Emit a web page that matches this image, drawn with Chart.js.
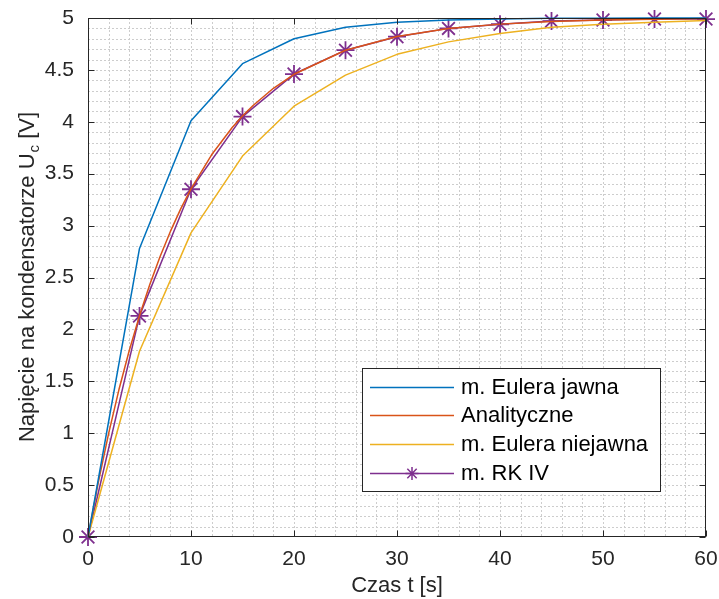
<!DOCTYPE html>
<html>
<head>
<meta charset="utf-8">
<script src="https://cdn.jsdelivr.net/npm/chart.js@4.4.1/dist/chart.umd.min.js"></script>
<style>
  html, body { margin: 0; padding: 0; background: #fff; }
  #wrap { width: 719px; height: 599px; }
</style>
</head>
<body>
<div id="wrap"><canvas id="chart" width="719" height="599"></canvas></div>
<script>
// time steps (h = 5 s)
const stepT = [0, 5, 10, 15, 20, 25, 30, 35, 40, 45, 50, 55, 60];
// explicit Euler
const eulerJawna = [0, 2.78, 4.01, 4.56, 4.80, 4.91, 4.96, 4.98, 4.99, 4.997, 4.998, 4.999, 5.0];
// implicit Euler
const eulerNiejawna = [0, 1.79, 2.93, 3.67, 4.15, 4.45, 4.65, 4.77, 4.85, 4.91, 4.94, 4.96, 4.975];
// RK4
const rk4 = [0, 2.13, 3.35, 4.05, 4.46, 4.69, 4.82, 4.90, 4.94, 4.97, 4.98, 4.99, 4.99];
// analytical curve (finer time grid)
const analT = [0, 1, 2, 3, 4, 5, 6, 7, 8, 9, 10, 12, 14, 15, 16, 18, 20, 25, 30, 35, 40, 45, 50, 55, 60];
const analityczne = [0, 0.526, 0.996, 1.418, 1.794, 2.131, 2.433, 2.703, 2.944, 3.161, 3.354, 3.682, 3.945, 4.056, 4.155, 4.323, 4.458, 4.689, 4.822, 4.898, 4.941, 4.966, 4.981, 4.989, 4.994];

const seriesNames = ['m. Eulera jawna', 'Analityczne', 'm. Eulera niejawna', 'm. RK IV'];
const seriesColors = ['#0072BD', '#D95319', '#EDB120', '#7E2F8E'];

const xTicks = [0, 10, 20, 30, 40, 50, 60];
const yTicks = [0, 0.5, 1, 1.5, 2, 2.5, 3, 3.5, 4, 4.5, 5];

const FONT = '"Liberation Sans", Arial, Helvetica, sans-serif';
const AXIS_COLOR = '#262626';

function pts(xs, ys) {
    return xs.map((x, i) => ({ x: x, y: ys[i] }));
}

// dotted grid (major + minor) behind the data, box, ticks, titles, legend
const gridPlugin = {
    id: 'matlabGrid',
    beforeDatasetsDraw(chart) {
        const ctx = chart.ctx;
        const a = chart.chartArea;
        const xs = chart.scales.x, ys = chart.scales.y;
        ctx.save();
        ctx.lineWidth = 1;
        ctx.setLineDash([2, 2]);
        ctx.strokeStyle = '#cdcdcd';
        for (let v = 2; v < 60; v += 2) {
            const px = Math.round(xs.getPixelForValue(v)) + 0.5;
            ctx.beginPath(); ctx.moveTo(px, a.top); ctx.lineTo(px, a.bottom); ctx.stroke();
        }
        for (let i = 1; i < 50; i++) {
            const py = Math.round(ys.getPixelForValue(i / 10)) + 0.5;
            ctx.beginPath(); ctx.moveTo(a.left, py); ctx.lineTo(a.right, py); ctx.stroke();
        }
        ctx.restore();
    },
    afterDatasetsDraw(chart) {
        const ctx = chart.ctx;
        const a = chart.chartArea;
        const xs = chart.scales.x, ys = chart.scales.y;
        const L = Math.round(a.left) + 0.5, R = Math.round(a.right) - 0.5;
        const T = Math.round(a.top) + 0.5, B = Math.round(a.bottom) - 0.5;
        ctx.save();
        ctx.strokeStyle = AXIS_COLOR;
        ctx.lineWidth = 1;
        ctx.strokeRect(L, T, R - L, B - T);
        const tl = 6;
        ctx.beginPath();
        xTicks.forEach(v => {
            const px = Math.round(xs.getPixelForValue(v)) + 0.5;
            ctx.moveTo(px, B); ctx.lineTo(px, B - tl);
            ctx.moveTo(px, T); ctx.lineTo(px, T + tl);
        });
        yTicks.forEach(v => {
            const py = Math.round(ys.getPixelForValue(v)) + 0.5;
            ctx.moveTo(L, py); ctx.lineTo(L + tl, py);
            ctx.moveTo(R, py); ctx.lineTo(R - tl, py);
        });
        ctx.stroke();
        ctx.restore();
    },
    afterDraw(chart) {
        const ctx = chart.ctx;
        const a = chart.chartArea;
        ctx.save();
        // axis titles
        ctx.fillStyle = AXIS_COLOR;
        ctx.font = '22px ' + FONT;
        ctx.textAlign = 'center';
        ctx.textBaseline = 'alphabetic';
        ctx.fillText('Czas t [s]', (a.left + a.right) / 2, 592);

        // y title with subscript c
        const p1 = 'Napięcie na kondensatorze U';
        const p2 = 'c';
        const p3 = ' [V]';
        ctx.font = '22px ' + FONT;
        const w1 = ctx.measureText(p1).width;
        const w3 = ctx.measureText(p3).width;
        ctx.font = '15px ' + FONT;
        const w2 = ctx.measureText(p2).width;
        const total = w1 + w2 + w3;
        ctx.translate(34, (a.top + a.bottom) / 2);
        ctx.rotate(-Math.PI / 2);
        ctx.textAlign = 'left';
        let x0 = -total / 2;
        ctx.font = '22px ' + FONT;
        ctx.fillText(p1, x0, 0);
        ctx.font = '15px ' + FONT;
        ctx.fillText(p2, x0 + w1 + 1, 5);
        ctx.font = '22px ' + FONT;
        ctx.fillText(p3, x0 + w1 + w2 + 1, 0);
        ctx.restore();

        // legend
        ctx.save();
        const bx = 362.5, by = 368.5, bw = 298, bh = 123;
        ctx.fillStyle = '#fff';
        ctx.fillRect(bx, by, bw, bh);
        ctx.strokeStyle = AXIS_COLOR;
        ctx.lineWidth = 1;
        ctx.strokeRect(bx, by, bw, bh);
        const rows = [387, 415, 444, 473];
        ctx.font = '22px ' + FONT;
        ctx.textBaseline = 'middle';
        ctx.textAlign = 'left';
        seriesNames.forEach((name, i) => {
            const y = rows[i] + 0.5;
            ctx.strokeStyle = seriesColors[i];
            ctx.lineWidth = 1.5;
            ctx.beginPath(); ctx.moveTo(370, y); ctx.lineTo(454, y); ctx.stroke();
            if (i === 3) {
                const cx = 412, r = 6.5;
                ctx.beginPath();
                ctx.moveTo(cx - r, y); ctx.lineTo(cx + r, y);
                ctx.moveTo(cx, y - r); ctx.lineTo(cx, y + r);
                const d = r * 0.72;
                ctx.moveTo(cx - d, y - d); ctx.lineTo(cx + d, y + d);
                ctx.moveTo(cx - d, y + d); ctx.lineTo(cx + d, y - d);
                ctx.stroke();
            }
            ctx.fillStyle = '#000';
            ctx.fillText(name, 461, rows[i] + 1);
        });
        ctx.restore();
    }
};

const datasets = [
    { label: seriesNames[0], data: pts(stepT, eulerJawna), borderColor: seriesColors[0] },
    { label: seriesNames[1], data: pts(analT, analityczne), borderColor: seriesColors[1] },
    { label: seriesNames[2], data: pts(stepT, eulerNiejawna), borderColor: seriesColors[2] },
    { label: seriesNames[3], data: pts(stepT, rk4), borderColor: seriesColors[3],
      pointStyle: 'star', pointRadius: 9, pointBorderWidth: 1.8, pointBorderColor: seriesColors[3] }
].map(d => Object.assign({
    borderWidth: 1.5,
    pointRadius: 0,
    tension: 0,
    fill: false
}, d));

new Chart(document.getElementById('chart').getContext('2d'), {
    type: 'line',
    data: { datasets: datasets },
    options: {
        responsive: false,
        animation: false,
        clip: false,
        layout: { padding: { top: 18, right: 13, left: 0, bottom: 0 } },
        plugins: { legend: { display: false }, tooltip: { enabled: false } },
        elements: { line: { borderJoinStyle: 'round' } },
        scales: {
            x: {
                type: 'linear', min: 0, max: 60,
                grid: { display: false }, border: { display: false },
                afterFit: s => { s.height = 62; s.paddingLeft = 0; s.paddingRight = 0; },
                afterBuildTicks: s => { s.ticks = xTicks.map(v => ({ value: v })); },
                ticks: { color: AXIS_COLOR, font: { family: FONT, size: 21 }, padding: 2, maxRotation: 0 }
            },
            y: {
                type: 'linear', min: 0, max: 5,
                grid: { display: false }, border: { display: false },
                afterFit: s => { s.width = 88; s.paddingTop = 0; s.paddingBottom = 0; },
                afterBuildTicks: s => { s.ticks = yTicks.map(v => ({ value: v })); },
                ticks: { color: AXIS_COLOR, font: { family: FONT, size: 21 }, padding: 6,
                         callback: v => String(v) }
            }
        }
    },
    plugins: [gridPlugin]
});
</script>
</body>
</html>
